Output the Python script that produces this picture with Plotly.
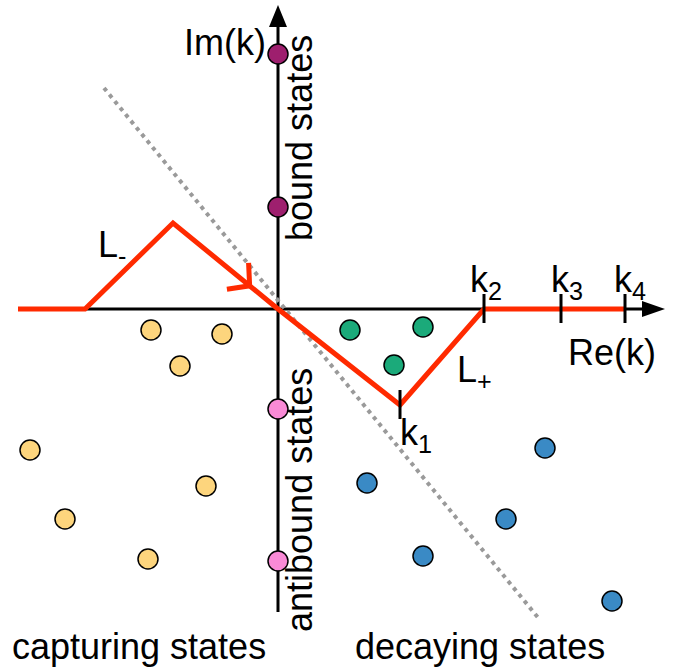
import numpy as np
import plotly.graph_objects as go

# ---- data (complex k-plane, arbitrary units; origin at axis crossing) ----
bound_im = [255, 102]
antibound_im = [-100, -252]
capturing_re = [-127, -56, -98, -248, -72, -213, -130]
capturing_im = [-21, -25, -57, -141, -177, -210, -250]
resonance_re = [72, 145, 116]
resonance_im = [-21, -18, -56]
decaying_re = [89, 267, 228, 145, 334]
decaying_im = [-174, -139, -210, -247, -292]
contour_re = [-260, -193, -105, 0, 122, 206, 347]
contour_im = [0, 0, 86, 0, -96, 0, 0]
k_names = ["k<sub>1</sub>", "k<sub>2</sub>", "k<sub>3</sub>", "k<sub>4</sub>"]
k_re = [122, 206, 283, 347]
k_im = [-96, 0, 0, 0]
cut_re = [-174, 262]
cut_im = [221, -311]

FONT = "Liberation Sans, Arial, sans-serif"
FS = 36

fig = go.Figure()

# dotted line
fig.add_trace(go.Scatter(x=cut_re, y=cut_im, mode="lines",
                         line=dict(color="#9a9a9a", width=4, dash="4px,4.5px"),
                         hoverinfo="skip"))
# contour
fig.add_trace(go.Scatter(x=contour_re, y=contour_im, mode="lines",
                         line=dict(color="#FF2A00", width=5), hoverinfo="skip"))
# chevron arrow on the L- branch
p0 = np.array([contour_re[2], contour_im[2]], float)
p1 = np.array([contour_re[3], contour_im[3]], float)
d = (p1 - p0) / np.linalg.norm(p1 - p0)
tip = p0 + d * 0.73 * np.linalg.norm(p1 - p0)
back = -d
def rot(v, a):
    c, s = np.cos(a), np.sin(a)
    return np.array([c * v[0] - s * v[1], s * v[0] + c * v[1]])
a1 = tip + rot(back, np.radians(48)) * 23
a2 = tip + rot(back, np.radians(-48)) * 23
fig.add_trace(go.Scatter(x=[a1[0], tip[0], a2[0]], y=[a1[1], tip[1], a2[1]], mode="lines",
                         line=dict(color="#FF2A00", width=5), hoverinfo="skip"))
# ticks
tx, ty = [], []
for xr, yi in zip(k_re, k_im):
    tx += [xr, xr, None]
    ty += [yi + 15, yi - 14, None]
fig.add_trace(go.Scatter(x=tx, y=ty, mode="lines", line=dict(color="black", width=3),
                         hoverinfo="skip"))

def pts(xs, ys, color):
    fig.add_trace(go.Scatter(x=xs, y=ys, mode="markers",
                             marker=dict(size=20, color=color, line=dict(color="black", width=1.5)),
                             hoverinfo="skip"))

pts([0] * len(bound_im), bound_im, "#9E1F6E")
pts([0] * len(antibound_im), antibound_im, "#F98AD6")
pts(capturing_re, capturing_im, "#FDD57D")
pts(resonance_re, resonance_im, "#1BAA7A")
pts(decaying_re, decaying_im, "#3A8AC5")

# axes as shapes
shapes = [
    dict(type="line", x0=-260, y0=0, x1=366, y1=0, line=dict(color="black", width=3), layer="below"),
    dict(type="line", x0=0, y0=-303, x1=0, y1=284, line=dict(color="black", width=3), layer="below"),
    dict(type="path", path="M 364,-8 L 387,0 L 364,8 Z", fillcolor="black", line=dict(width=0)),
    dict(type="path", path="M -9,282 L 0,304 L 9,282 Z", fillcolor="black", line=dict(width=0)),
]

ann = []
def txt(x, y, t, angle=0, xanchor="center", size=FS):
    ann.append(dict(x=x, y=y, text=t, showarrow=False, textangle=angle,
                    xanchor=xanchor, yanchor="middle",
                    font=dict(family=FONT, size=size, color="black")))

txt(-53, 267, "Im(k)")
txt(334, -43, "Re(k)")
txt(-166, 62, "L<sub>-</sub>")
txt(196, -63, "L<sub>+</sub>")
txt(138, -126, k_names[0])
txt(208, 27, k_names[1])
txt(289, 27, k_names[2])
txt(352, 27, k_names[3])
txt(21, 171, "bound states", angle=-90)
txt(21, -191, "antibound states", angle=-90)
txt(-139, -337, "capturing states")
txt(202, -337, "decaying states")

fig.update_layout(
    width=673, height=672, margin=dict(l=0, r=0, t=0, b=0),
    paper_bgcolor="white", plot_bgcolor="white", showlegend=False,
    xaxis=dict(range=[-278, 395], visible=False, fixedrange=True),
    yaxis=dict(range=[-363, 309], visible=False, fixedrange=True),
    shapes=shapes, annotations=ann,
)
fig.write_html("out.html")
